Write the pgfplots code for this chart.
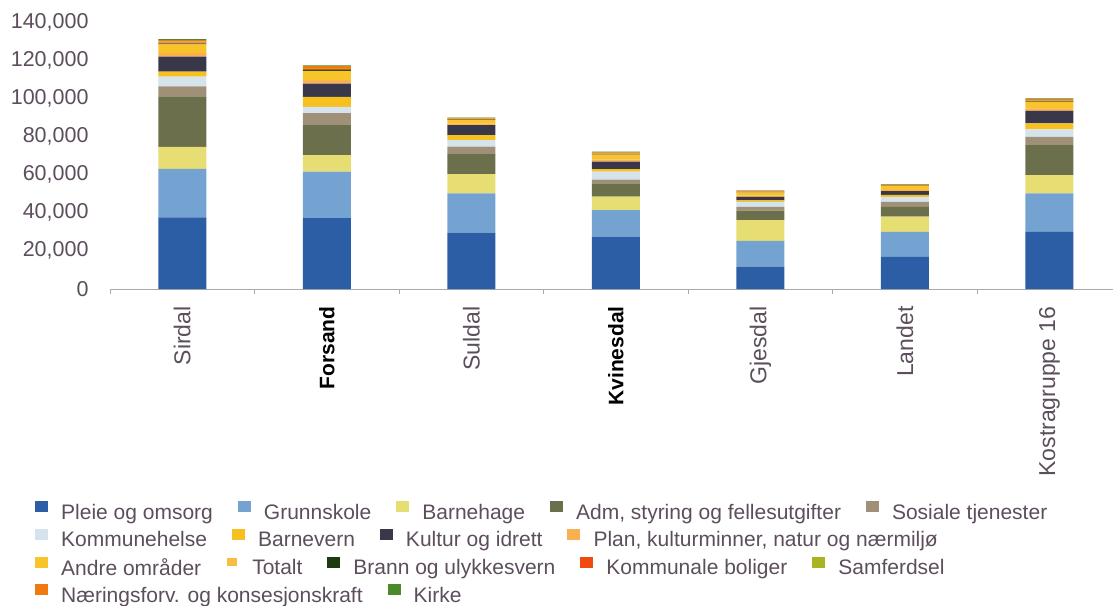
\documentclass[border=0pt]{standalone}
\usepackage{pgfplots}
\pgfplotsset{compat=1.18}
\usepackage{pgfplotstable}
\usepackage{fontspec}
\setmainfont{Liberation Sans}

\definecolor{txt}{RGB}{92,78,92}
\definecolor{axisgray}{RGB}{170,170,170}
\definecolor{c1}{HTML}{2B5EA5}
\definecolor{c2}{HTML}{74A3D2}
\definecolor{c3}{HTML}{E6DE72}
\definecolor{c4}{HTML}{6B6F4C}
\definecolor{c5}{HTML}{A09078}
\definecolor{c6}{HTML}{D5E3EC}
\definecolor{c7}{HTML}{F5C020}
\definecolor{c8}{HTML}{38384A}
\definecolor{c9}{HTML}{F8B050}
\definecolor{c10}{HTML}{F9C42A}
\definecolor{c11}{HTML}{F8C040}
\definecolor{c12}{HTML}{1E3A10}
\definecolor{c13}{HTML}{F04A10}
\definecolor{c14}{HTML}{A8B420}
\definecolor{c15}{HTML}{F07A10}
\definecolor{c16}{HTML}{4A8A28}

% Utgifter per innbygger, etter tjenesteomraade
\pgfplotstableread{
x Pleie Grunn Bhage Adm Sos Komh Bvern Kult Plan Andre Brann Kbol Samf Naer Kirke
0 37500 25500 11500 26500 5200 5200 2600 7900 1800 4600 400 500 450 900 450
1 37200 24300 8700 15700 6300 3300 5200 7000 1900 4800 400 600 500 950 450
2 29500 20700 10100 10800 3500 3500 2600 5200 800 2000 150 250 200 400 200
3 27400 14000 7000 7000 2000 4100 1300 4000 1000 2600 200 300 250 550 300
4 11700 13600 10800 5000 2000 2600 800 1800 700 1700 150 200 150 350 200
5 16900 13100 7900 5200 2600 2600 1000 2000 700 1900 150 200 150 350 200
6 30000 20100 9600 15700 4400 3900 3100 6600 1300 3250 250 400 300 650 350
}\data

\newcommand\leg[1]{\addlegendimage{legend image code/.code={%
  \fill[#1] (1bp,1bp) rectangle (13bp,11bp);
  \path[draw=none,fill=none] (0bp,0bp) -- (27bp,0bp);}}}
\newcommand\fnt{\fontsize{21bp}{25bp}\selectfont}

\pgfplotsset{
  legrow/.style={
    anchor=south west, hide axis, scale only axis,
    width=1bp, height=1bp, xmin=0, xmax=1, ymin=0, ymax=1,
    legend columns=-1,
    legend style={at={(0,0)}, anchor=west, draw=none, fill=none,
      inner sep=0pt, font=\fnt, text=txt,
      nodes={inner sep=0pt},
      /tikz/every even column/.append style={column sep=24bp}},
  },
}

\begin{document}
\begin{tikzpicture}
\begin{axis}[
  at={(0,0)}, anchor=south west,
  scale only axis, width=1003bp, height=267bp,
  ybar stacked, bar width=48bp,
  xmin=-0.5, xmax=6.44, ymin=0, ymax=140000,
  axis x line*=bottom, axis y line*=left,
  x axis line style={draw=axisgray, line width=0.8bp},
  y axis line style={draw=none},
  xtick={0,...,6},
  xticklabels={Sirdal,
    {\fontsize{21bp}{21bp}\selectfont\bfseries\textcolor{black}{Forsand}},
    Suldal,
    {\fontsize{21bp}{21bp}\selectfont\bfseries\textcolor{black}{Kvinesdal}},
    Gjesdal, Landet, Kostragruppe 16},
  major x tick style={draw=none},
  minor xtick={-0.5,0.5,...,5.5},
  minor x tick style={draw=axisgray, line width=0.8bp},
  minor tick length=5bp, tick align=outside,
  ytick={0,20000,...,140000}, ytick style={draw=none},
  scaled y ticks=false,
  /pgf/number format/fixed,
  /pgf/number format/1000 sep={,},
  /pgf/number format/assume math mode=true,
  yticklabel style={font=\fontsize{21.5bp}{25bp}\selectfont, text=txt, anchor=east,
    inner ysep=0pt, inner xsep=17bp},
  xticklabel style={font=\fontsize{23bp}{23bp}\selectfont, text=txt, rotate=90,
    anchor=east, inner ysep=0pt, inner xsep=13bp},
]
\addplot[fill=c1, draw=none] table[x=x, y=Pleie]{\data};
\addplot[fill=c2, draw=none] table[x=x, y=Grunn]{\data};
\addplot[fill=c3, draw=none] table[x=x, y=Bhage]{\data};
\addplot[fill=c4, draw=none] table[x=x, y=Adm]{\data};
\addplot[fill=c5, draw=none] table[x=x, y=Sos]{\data};
\addplot[fill=c6, draw=none] table[x=x, y=Komh]{\data};
\addplot[fill=c7, draw=none] table[x=x, y=Bvern]{\data};
\addplot[fill=c8, draw=none] table[x=x, y=Kult]{\data};
\addplot[fill=c9, draw=none] table[x=x, y=Plan]{\data};
\addplot[fill=c10, draw=none] table[x=x, y=Andre]{\data};
\addplot[fill=c12, draw=none] table[x=x, y=Brann]{\data};
\addplot[fill=c13, draw=none] table[x=x, y=Kbol]{\data};
\addplot[fill=c14, draw=none] table[x=x, y=Samf]{\data};
\addplot[fill=c15, draw=none] table[x=x, y=Naer]{\data};
\addplot[fill=c16, draw=none] table[x=x, y=Kirke]{\data};
\end{axis}

\begin{axis}[legrow, at={(-76bp,-222bp)}]
\leg{c1}\addlegendentry{Pleie og omsorg}
\leg{c2}\addlegendentry{Grunnskole}
\leg{c3}\addlegendentry{Barnehage}
\leg{c4}\addlegendentry{Adm, styring og fellesutgifter}
\leg{c5}\addlegendentry{Sosiale tjenester}
\end{axis}
\begin{axis}[legrow, at={(-76bp,-249.7bp)}]
\leg{c6}\addlegendentry{Kommunehelse}
\leg{c7}\addlegendentry{Barnevern}
\leg{c8}\addlegendentry{Kultur og idrett}
\leg{c9}\addlegendentry{Plan, kulturminner, natur og nærmiljø}
\end{axis}
\begin{axis}[legrow, at={(-76bp,-277.4bp)}]
\leg{c10}\addlegendentry{Andre områder}
\leg{c11,draw=white,line width=2bp}\addlegendentry{Totalt}
\leg{c12}\addlegendentry{Brann og ulykkesvern}
\leg{c13}\addlegendentry{Kommunale boliger}
\leg{c14}\addlegendentry{Samferdsel}
\end{axis}
\begin{axis}[legrow, at={(-76bp,-305bp)}]
\leg{c15}\addlegendentry{Næringsforv. og konsesjonskraft}
\leg{c16}\addlegendentry{Kirke}
\end{axis}

\pgfresetboundingbox
\path[use as bounding box] (-110bp,-317bp) rectangle (1003bp,289bp);
\end{tikzpicture}
\end{document}
